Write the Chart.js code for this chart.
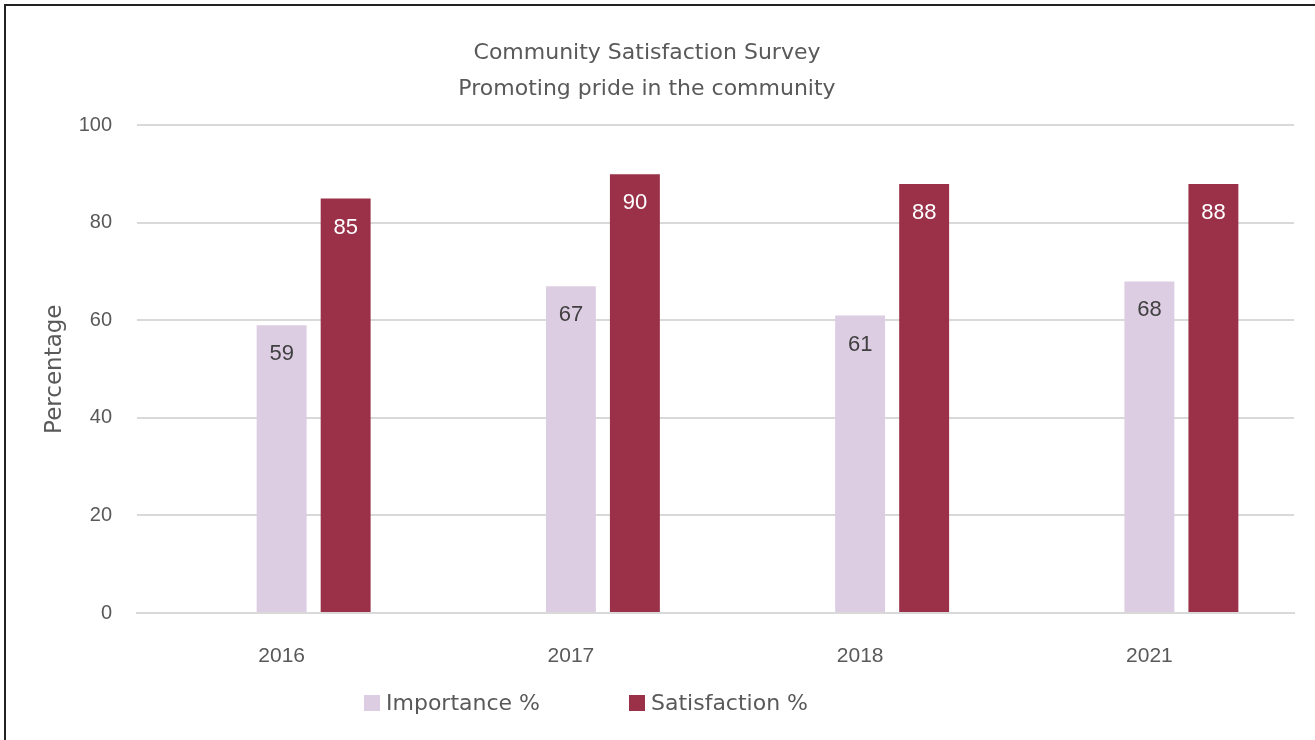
<!DOCTYPE html>
<html>
<head>
<meta charset="utf-8">
<title>Community Satisfaction Survey</title>
<script src="https://cdn.jsdelivr.net/npm/chart.js@4.4.1/dist/chart.umd.min.js"></script>
<style>
  html, body { margin: 0; padding: 0; background: #fff; overflow: hidden; }
  #frame {
    position: absolute; left: 0; top: 0; width: 1315px; height: 740px;
  }
  #frame:before {
    content: ""; position: absolute; left: 4px; top: 4px; width: 1330px; height: 760px;
    border-left: 2px solid #222; border-top: 2px solid #222; pointer-events: none;
  }
</style>
</head>
<body>
<div id="frame"><canvas id="surveyChart" width="1315" height="740"></canvas></div>
<script>
var years = ['2016', '2017', '2018', '2021'];
var importance = [59, 67, 61, 68];
var satisfaction = [85, 90, 88, 88];
var yTicks = [0, 20, 40, 60, 80, 100];

var lilac = '#dccde3';
var wine = '#9a3149';
var greyText = '#595959';
var numFont = "'Liberation Sans', Arial, sans-serif";
var wordFont = "'DejaVu Sans', sans-serif";

// values printed just under the top of each bar
var barLabels = {
  id: 'barLabels',
  afterDatasetsDraw: function (chart) {
    var ctx = chart.ctx;
    ctx.save();
    ctx.font = '22px ' + numFont;
    ctx.textAlign = 'center';
    ctx.textBaseline = 'middle';
    chart.data.datasets.forEach(function (ds, i) {
      if (!ds.labelColor) return;
      chart.getDatasetMeta(i).data.forEach(function (bar, j) {
        ctx.fillStyle = ds.labelColor;
        ctx.fillText(ds.data[j], bar.x, bar.y + 29);
      });
    });
    ctx.restore();
  }
};

// legend row under the axis
var bottomLegend = {
  id: 'bottomLegend',
  afterDraw: function (chart) {
    var ctx = chart.ctx;
    var area = chart.chartArea;
    var x = area.left + 227;
    var y = area.bottom + 90;
    ctx.save();
    ctx.font = '22px ' + wordFont;
    ctx.textBaseline = 'middle';
    chart.data.datasets.forEach(function (ds) {
      if (!ds.labelColor) return;
      ctx.fillStyle = ds.backgroundColor;
      ctx.fillRect(x, y - 8, 16, 16);
      ctx.fillStyle = greyText;
      ctx.fillText(ds.label, x + 22, y + 1);
      x += 265;
    });
    ctx.restore();
  }
};

new Chart(document.getElementById('surveyChart'), {
  type: 'bar',
  data: {
    labels: years,
    datasets: [
      { label: '', data: [null, null, null, null], backgroundColor: 'rgba(0,0,0,0)' },
      { label: 'Importance %', data: importance, backgroundColor: lilac, labelColor: '#404040' },
      { label: 'Satisfaction %', data: satisfaction, backgroundColor: wine, labelColor: '#ffffff' }
    ]
  },
  options: {
    responsive: false,
    animation: false,
    devicePixelRatio: 1,
    categoryPercentage: 0.664,
    barPercentage: 0.78,
    layout: { padding: { left: 0, right: 21, top: 0, bottom: 77 } },
    plugins: {
      legend: { display: false },
      tooltip: { enabled: false },
      title: {
        display: true,
        text: ['Community Satisfaction Survey', 'Promoting pride in the community'],
        color: greyText,
        font: { family: wordFont, size: 22, weight: 'normal', lineHeight: 1.6 },
        padding: { top: 36, bottom: 19 }
      }
    },
    scales: {
      x: {
        afterFit: function (scale) { scale.height = 50; },
        grid: { display: false },
        border: { color: '#d9d9d9', width: 2 },
        ticks: { color: greyText, font: { family: numFont, size: 21 }, padding: 23 }
      },
      y: {
        min: 0,
        max: 100,
        afterFit: function (scale) { scale.width = 137; },
        afterBuildTicks: function (axis) {
          axis.ticks = yTicks.map(function (v) { return { value: v }; });
        },
        grid: { color: '#d9d9d9', lineWidth: 2, drawTicks: false },
        border: { display: false },
        ticks: { color: greyText, font: { family: numFont, size: 20 }, padding: 25 },
        title: {
          display: true,
          text: 'Percentage',
          color: greyText,
          font: { family: wordFont, size: 23 },
          padding: { top: 41, bottom: 0 }
        }
      }
    }
  },
  plugins: [barLabels, bottomLegend]
});
</script>
</body>
</html>
